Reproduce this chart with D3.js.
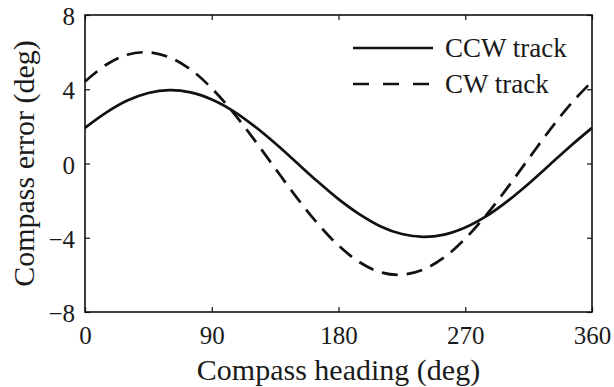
<html>
<head>
<script src="https://d3js.org/d3.v7.min.js"></script>
<style>
body { margin: 0; background: #fff; }
svg text { font-family: "Liberation Serif", "Times New Roman", serif; fill: #1a1a1a; }
</style>
</head>
<body>
<script>
// values, every 15 deg
var heading = [0, 15, 30, 45, 60, 75, 90, 105, 120, 135, 150, 165, 180,
               195, 210, 225, 240, 255, 270, 285, 300, 315, 330, 345, 360];
var ccwError = [1.92, 2.74, 3.39, 3.80, 3.95, 3.83, 3.45, 2.84, 2.03, 1.09, 0.07, -0.96, -1.92,
                -2.74, -3.39, -3.80, -3.95, -3.83, -3.45, -2.84, -2.03, -1.09, -0.07, 0.96, 1.92];
var cwError = [4.42, 5.32, 5.86, 5.99, 5.72, 5.06, 4.05, 2.77, 1.30, -0.26, -1.80, -3.22, -4.42,
               -5.32, -5.86, -5.99, -5.72, -5.06, -4.05, -2.77, -1.30, 0.26, 1.80, 3.22, 4.42];
var xTicks = [0, 90, 180, 270, 360];
var yTicks = [-8, -4, 0, 4, 8];
var seriesNames = ["CCW track", "CW track"];

var W = 614, H = 387;
var margin = {top: 15, right: 22, bottom: 75, left: 85};
var width = W - margin.left - margin.right;
var height = H - margin.top - margin.bottom;
var serif = '"Liberation Serif", "Times New Roman", serif';

var svg = d3.select("body").append("svg")
    .attr("width", W)
    .attr("height", H);

var g = svg.append("g")
    .attr("transform", "translate(" + margin.left + "," + margin.top + ")");

var x = d3.scaleLinear().domain([0, 360]).range([0, width]);
var y = d3.scaleLinear().domain([-8, 8]).range([height, 0]);

var line = d3.line()
    .x(function(d) { return x(d[0]); })
    .y(function(d) { return y(d[1]); })
    .curve(d3.curveCatmullRom);

// curves
g.append("path")
    .datum(d3.zip(heading, ccwError))
    .attr("d", line)
    .attr("fill", "none")
    .attr("stroke", "#111")
    .attr("stroke-width", 2.7);

g.append("path")
    .datum(d3.zip(heading, cwError))
    .attr("d", line)
    .attr("fill", "none")
    .attr("stroke", "#111")
    .attr("stroke-width", 2.7)
    .attr("stroke-dasharray", "16,9");

// axes, ticks pointing inward on all four sides
var tickLen = 5;
function styleAxis(sel) {
    sel.attr("font-family", serif).attr("font-size", 25);
    sel.select(".domain").remove();
    sel.selectAll(".tick line").attr("stroke", "#111").attr("stroke-width", 1.2);
    sel.selectAll(".tick text").style("font-size", "25px").style("font-family", serif);
}

g.append("g")
    .attr("transform", "translate(0," + height + ")")
    .call(d3.axisBottom(x).tickValues(xTicks).tickSize(-tickLen).tickPadding(14))
    .call(styleAxis)
    .selectAll(".tick text").attr("dy", "0.71em");

g.append("g")
    .call(d3.axisTop(x).tickValues(xTicks).tickSize(-tickLen).tickFormat(""))
    .call(styleAxis);

g.append("g")
    .call(d3.axisLeft(y).tickValues(yTicks).tickSize(-tickLen).tickPadding(10)
        .tickFormat(function(d) { return d < 0 ? "\u2212" + Math.abs(d) : d; }))
    .call(styleAxis)
    .selectAll(".tick text").attr("dy", "0.38em");

g.append("g")
    .attr("transform", "translate(" + width + ",0)")
    .call(d3.axisRight(y).tickValues(yTicks).tickSize(-tickLen).tickFormat(""))
    .call(styleAxis);

// frame
g.append("rect")
    .attr("width", width)
    .attr("height", height)
    .attr("fill", "none")
    .attr("stroke", "#111")
    .attr("stroke-width", 1.6);

// legend
var legend = g.append("g").attr("transform", "translate(268,33)");
seriesNames.forEach(function(name, i) {
    var row = legend.append("g").attr("transform", "translate(0," + i * 36 + ")");
    row.append("line")
        .attr("x1", 0).attr("x2", 80)
        .attr("stroke", "#111")
        .attr("stroke-width", 2.7)
        .attr("stroke-dasharray", i == 1 ? "16,14" : null);
    row.append("text")
        .attr("x", 92)
        .attr("dy", "0.33em")
        .style("font-size", "27px")
        .text(name);
});

// axis titles
svg.append("text")
    .attr("x", margin.left + width / 2)
    .attr("y", 380)
    .attr("text-anchor", "middle")
    .style("font-size", "30px")
    .text("Compass heading (deg)");

svg.append("text")
    .attr("transform", "translate(34," + (margin.top + height / 2) + ") rotate(-90)")
    .attr("text-anchor", "middle")
    .style("font-size", "30px")
    .text("Compass error (deg)");
</script>
</body>
</html>
